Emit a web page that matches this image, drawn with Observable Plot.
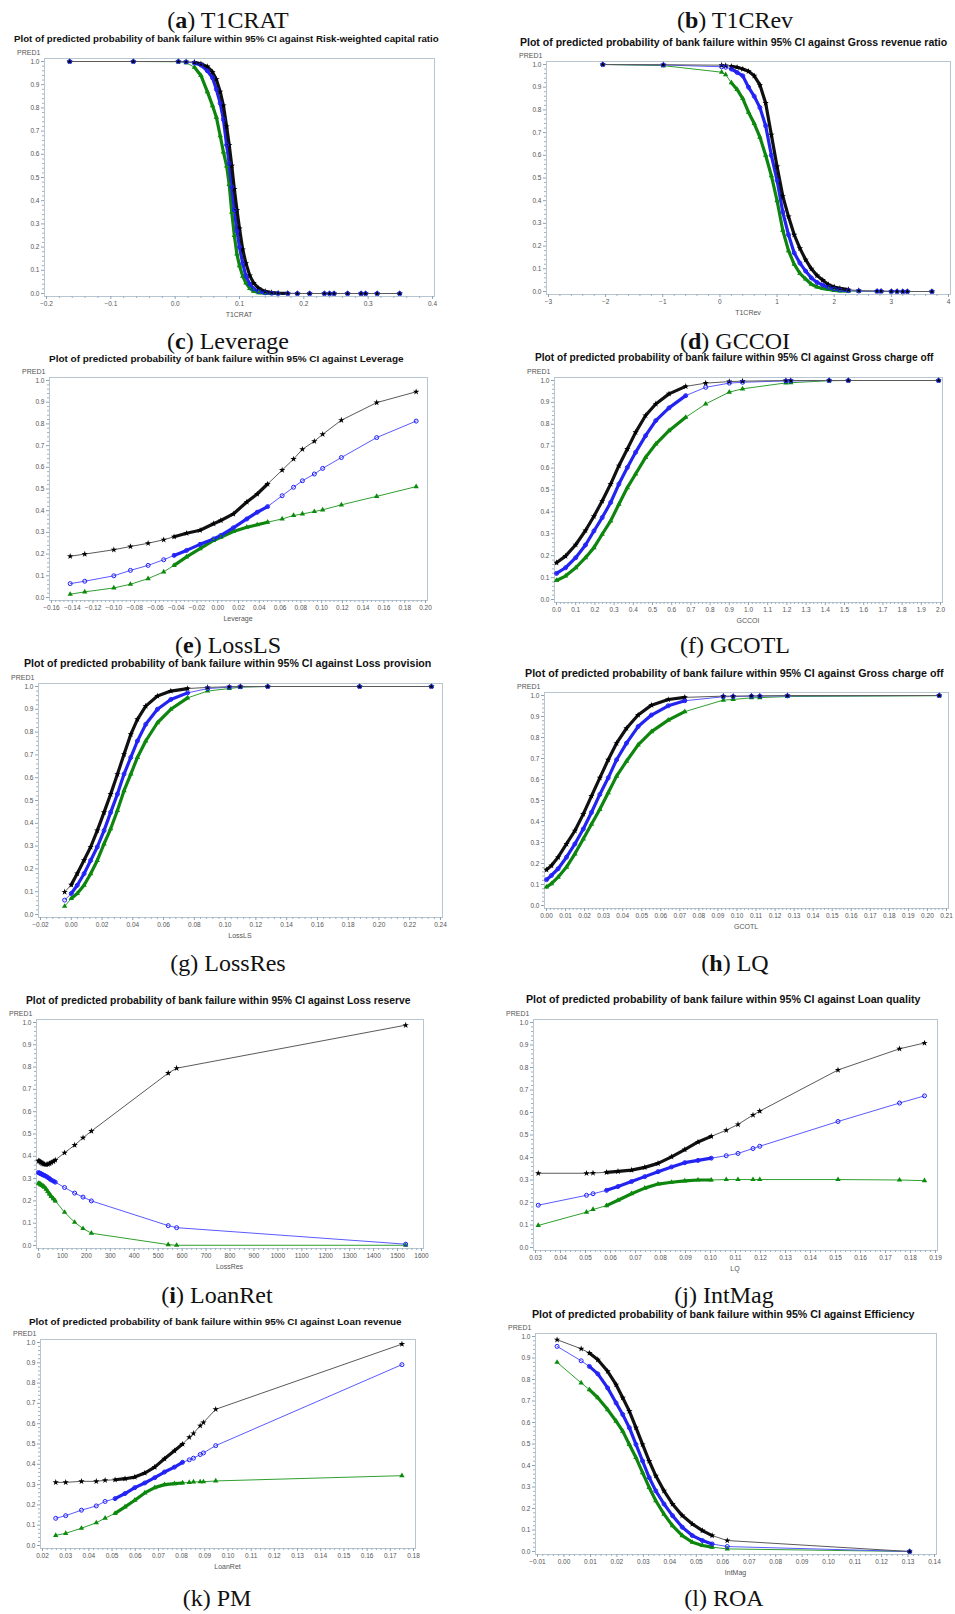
<!DOCTYPE html>
<html><head><meta charset="utf-8">
<script src="https://cdn.jsdelivr.net/npm/d3@7"></script>
<script src="https://cdn.jsdelivr.net/npm/@observablehq/plot@0.6"></script>
<style>
body{margin:0;background:#fff;}
#page{position:relative;width:955px;height:1614px;overflow:hidden;background:#fff;}
.cap{position:absolute;font-family:"Liberation Serif","Times New Roman",serif;font-size:24px;line-height:28px;white-space:nowrap;color:#111;transform:translate(-50%,-50%);}
.ttl{position:absolute;font-family:"Liberation Sans",Arial,sans-serif;font-weight:bold;white-space:nowrap;color:#111;line-height:1;}
.lab{position:absolute;font-family:"Liberation Sans",Arial,sans-serif;font-size:7px;line-height:8px;color:#555;white-space:nowrap;}
svg{position:absolute;}
</style></head><body><div id="page"></div>
<script>
// ---------- data ----------
const yTicks = [0,0.1,0.2,0.3,0.4,0.5,0.6,0.7,0.8,0.9,1.0];

// (a) T1CRAT
const aX = [-0.164,-0.065,0.005,0.017,0.03,0.04,0.05,0.058,0.064,0.07,0.075,0.08,0.084,0.088,0.092,0.096,0.1,0.105,0.11,0.116,0.122,0.13,0.14,0.15,0.16,0.175,0.19,0.209,0.232,0.24,0.247,0.268,0.289,0.296,0.314,0.349];
const aUpper = [1,1,1,0.999,0.997,0.99,0.978,0.955,0.923,0.87,0.81,0.72,0.64,0.55,0.45,0.36,0.28,0.19,0.13,0.077,0.045,0.022,0.009,0.004,0.002,0.001,0,0,0,0,0,0,0,0,0,0];
const aPred = [1,1,1,0.998,0.993,0.985,0.96,0.93,0.88,0.82,0.75,0.64,0.56,0.46,0.36,0.27,0.2,0.13,0.075,0.04,0.02,0.008,0.003,0.001,0,0,0,0,0,0,0,0,0,0,0,0];
const aLower = [1,1,0.999,0.995,0.975,0.94,0.87,0.81,0.76,0.68,0.61,0.55,0.47,0.35,0.25,0.17,0.12,0.075,0.045,0.022,0.01,0.004,0.001,0,0,0,0,0,0,0,0,0,0,0,0,0];
const aTicks = [-0.2,-0.1,0,0.1,0.2,0.3,0.4];

// (b) T1CRev
const bX = [-2.05,-0.99,0.03,0.1,0.2,0.3,0.4,0.5,0.6,0.7,0.8,0.9,1.0,1.1,1.2,1.3,1.4,1.5,1.6,1.7,1.8,1.9,2.0,2.1,2.25,2.43,2.75,2.82,3.0,3.1,3.2,3.28,3.71];
const bUpper = [1,0.999,0.997,0.995,0.992,0.988,0.98,0.97,0.95,0.91,0.83,0.69,0.55,0.42,0.33,0.25,0.19,0.14,0.1,0.07,0.05,0.03,0.02,0.014,0.008,0.004,0.002,0.002,0.001,0.001,0,0,0];
const bPred = [1,0.998,0.99,0.988,0.98,0.965,0.95,0.9,0.86,0.81,0.73,0.6,0.49,0.35,0.25,0.17,0.125,0.09,0.06,0.04,0.028,0.018,0.011,0.007,0.004,0.002,0.001,0.001,0,0,0,0,0];
const bLower = [1,0.995,0.966,0.955,0.92,0.89,0.85,0.79,0.74,0.68,0.6,0.51,0.4,0.27,0.18,0.12,0.08,0.055,0.032,0.02,0.013,0.009,0.005,0.003,0.002,0.001,0,0,0,0,0,0,0];
const bTicks = [-3,-2,-1,0,1,2,3,4];

// (c) Leverage
const cX = [-0.142,-0.128,-0.100,-0.084,-0.067,-0.052,-0.042,-0.030,-0.017,-0.004,0.003,0.015,0.028,0.038,0.048,0.062,0.073,0.0815,0.093,0.101,0.119,0.153,0.191];
const cUpper = [0.19,0.20,0.22,0.235,0.25,0.266,0.28,0.296,0.31,0.34,0.355,0.385,0.44,0.477,0.523,0.587,0.638,0.683,0.72,0.752,0.817,0.898,0.948];
const cPred = [0.064,0.075,0.10,0.125,0.148,0.174,0.194,0.217,0.245,0.27,0.286,0.321,0.362,0.393,0.419,0.469,0.508,0.538,0.569,0.595,0.645,0.737,0.813];
const cLower = [0.015,0.026,0.044,0.061,0.087,0.118,0.148,0.187,0.225,0.263,0.278,0.304,0.324,0.335,0.347,0.362,0.378,0.385,0.396,0.404,0.427,0.466,0.511];
const cTicks = [-0.16,-0.14,-0.12,-0.10,-0.08,-0.06,-0.04,-0.02,0,0.02,0.04,0.06,0.08,0.10,0.12,0.14,0.16,0.18,0.20];

// (d) GCCOI
const dX = [0,0.047,0.1,0.151,0.195,0.238,0.282,0.325,0.369,0.412,0.464,0.517,0.586,0.673,0.777,0.9,0.969,1.195,1.22,1.42,1.52,1.99];
const dUpper = [0.168,0.198,0.25,0.315,0.38,0.45,0.527,0.611,0.687,0.763,0.84,0.893,0.939,0.973,0.988,0.995,0.997,1,1,1,1,1];
const dPred = [0.119,0.145,0.191,0.249,0.313,0.374,0.443,0.527,0.603,0.672,0.748,0.817,0.875,0.931,0.969,0.988,0.992,0.998,0.998,1,1,1];
const dLower = [0.087,0.107,0.145,0.191,0.237,0.298,0.359,0.435,0.511,0.573,0.649,0.71,0.771,0.832,0.893,0.947,0.962,0.989,0.99,0.999,1,1];
const dTicks = [0,0.1,0.2,0.3,0.4,0.5,0.6,0.7,0.8,0.9,1.0,1.1,1.2,1.3,1.4,1.5,1.6,1.7,1.8,1.9,2.0];

// (e) LossLS
const eX = [-0.0043,0,0.0039,0.0083,0.0126,0.0169,0.0213,0.0256,0.030,0.0343,0.0387,0.043,0.0484,0.056,0.0647,0.0756,0.0886,0.1027,0.1099,0.1277,0.1874,0.2341];
const eUpper = [0.099,0.13,0.18,0.238,0.296,0.368,0.448,0.528,0.615,0.703,0.79,0.856,0.914,0.958,0.98,0.991,0.996,0.999,1,1,1,1];
const ePred = [0.063,0.092,0.128,0.179,0.237,0.296,0.368,0.448,0.528,0.616,0.689,0.761,0.834,0.9,0.943,0.972,0.991,0.997,0.999,1,1,1];
const eLower = [0.036,0.07,0.092,0.128,0.179,0.237,0.31,0.376,0.456,0.543,0.616,0.689,0.761,0.841,0.9,0.95,0.98,0.991,0.997,1,1,1];
const eTicks = [-0.02,0,0.02,0.04,0.06,0.08,0.10,0.12,0.14,0.16,0.18,0.20,0.22,0.24];

// (f) GCOTL
const fX = [0,0.0026,0.0061,0.0105,0.0149,0.0193,0.0236,0.028,0.0324,0.0368,0.042,0.0481,0.0551,0.0639,0.0726,0.0928,0.098,0.1076,0.112,0.1265,0.2062];
const fUpper = [0.17,0.19,0.23,0.293,0.356,0.435,0.521,0.608,0.694,0.773,0.844,0.907,0.954,0.981,0.991,0.997,0.997,0.998,0.998,1,1];
const fPred = [0.123,0.143,0.175,0.23,0.293,0.364,0.443,0.529,0.608,0.694,0.773,0.852,0.907,0.951,0.975,0.994,0.995,0.997,0.997,0.998,1];
const fLower = [0.088,0.104,0.135,0.183,0.246,0.317,0.387,0.458,0.537,0.616,0.687,0.765,0.828,0.883,0.923,0.978,0.981,0.989,0.99,0.995,0.999];
const fTicks = [0,0.01,0.02,0.03,0.04,0.05,0.06,0.07,0.08,0.09,0.10,0.11,0.12,0.13,0.14,0.15,0.16,0.17,0.18,0.19,0.20,0.21];

// (g) LossRes
const gX = [0,4,8,11,15,20,25,32,39,46,53,62,70,109,151,186,221,542,577,1534];
const gUpper = [0.38,0.378,0.375,0.372,0.369,0.366,0.364,0.363,0.364,0.367,0.372,0.377,0.383,0.416,0.45,0.483,0.513,0.773,0.795,0.988];
const gPred = [0.327,0.325,0.323,0.321,0.319,0.316,0.314,0.31,0.305,0.3,0.294,0.289,0.284,0.26,0.235,0.217,0.2,0.089,0.08,0.006];
const gLower = [0.279,0.277,0.275,0.272,0.269,0.266,0.262,0.253,0.242,0.231,0.22,0.21,0.2,0.149,0.104,0.076,0.055,0.004,0.001,0.001];
const gTicks = [0,100,200,300,400,500,600,700,800,900,1000,1100,1200,1300,1400,1500,1600];

// (h) LQ
const hX = [0.0311,0.0504,0.0530,0.0584,0.0630,0.0684,0.0737,0.0790,0.0844,0.0897,0.0950,0.1003,0.1063,0.1110,0.1170,0.1197,0.1510,0.1756,0.1856];
const hUpper = [0.33,0.33,0.331,0.334,0.338,0.344,0.356,0.374,0.403,0.435,0.469,0.494,0.521,0.547,0.589,0.606,0.789,0.883,0.909];
const hPred = [0.188,0.232,0.239,0.254,0.271,0.293,0.315,0.337,0.358,0.377,0.387,0.397,0.408,0.418,0.44,0.45,0.56,0.642,0.674];
const hLower = [0.098,0.157,0.169,0.186,0.21,0.239,0.264,0.282,0.29,0.296,0.3,0.3,0.302,0.302,0.302,0.302,0.302,0.3,0.297];
const hTicks = [0.03,0.04,0.05,0.06,0.07,0.08,0.09,0.10,0.11,0.12,0.13,0.14,0.15,0.16,0.17,0.18,0.19];

// (i) LoanRet
const iX = [0.0257,0.030,0.0368,0.0432,0.0470,0.0513,0.0556,0.0598,0.0641,0.0684,0.0726,0.0769,0.0804,0.0833,0.0851,0.0880,0.0894,0.0947,0.175];
const iUpper = [0.311,0.311,0.316,0.316,0.321,0.324,0.329,0.337,0.357,0.386,0.427,0.467,0.5,0.533,0.552,0.59,0.606,0.671,0.992];
const iPred = [0.134,0.147,0.174,0.195,0.217,0.231,0.256,0.285,0.308,0.334,0.362,0.386,0.41,0.422,0.43,0.448,0.456,0.492,0.891];
const iLower = [0.05,0.06,0.085,0.112,0.135,0.158,0.19,0.223,0.259,0.285,0.3,0.305,0.308,0.311,0.313,0.314,0.314,0.318,0.344];
const iTicks = [0.02,0.03,0.04,0.05,0.06,0.07,0.08,0.09,0.10,0.11,0.12,0.13,0.14,0.15,0.16,0.17,0.18];

// (j) IntMag
const jX = [-0.0026,0.0065,0.0096,0.0128,0.0165,0.0197,0.0222,0.0247,0.0272,0.0297,0.0322,0.0347,0.0378,0.041,0.0447,0.0485,0.0523,0.056,0.0617,0.1306];
const jUpper = [0.985,0.943,0.923,0.892,0.838,0.776,0.715,0.653,0.576,0.498,0.421,0.352,0.282,0.221,0.167,0.128,0.097,0.074,0.051,0];
const jPred = [0.954,0.887,0.861,0.826,0.761,0.691,0.637,0.576,0.498,0.421,0.344,0.282,0.221,0.167,0.113,0.074,0.051,0.035,0.023,0];
const jLower = [0.88,0.784,0.753,0.715,0.66,0.606,0.56,0.498,0.437,0.367,0.298,0.236,0.174,0.12,0.074,0.043,0.028,0.02,0.012,0];
const jTicks = [-0.01,0,0.01,0.02,0.03,0.04,0.05,0.06,0.07,0.08,0.09,0.10,0.11,0.12,0.13,0.14];

const titleStem = "Plot of predicted probability of bank failure within 95% CI against ";

// ---------- layout (positions / styles) ----------
const panels = [
 {L:"a",cap:"T1CRAT",bold:true,cx:228,cy:20,title:"Risk-weighted capital ratio",tx0:14,tx1:439,ty:39,xl:"T1CRAT",fr:[44,434,58,296],x:aX,up:aUpper,pr:aPred,lo:aLower,ticks:aTicks,fmt:".1f",dense:[0.02,0.18]},
 {L:"b",cap:"T1CRev",bold:true,cx:735,cy:20,title:"Gross revenue ratio",tx0:520,tx1:948,ty:43,xl:"T1CRev",fr:[546,950,61,294],x:bX,up:bUpper,pr:bPred,lo:bLower,ticks:bTicks,fmt:"d",dense:[0.2,2.3]},
 {L:"c",cap:"Leverage",bold:true,cx:228,cy:341,title:"Leverage",tx0:49,tx1:404,ty:359,xl:"Leverage",fr:[49,427,377,600],x:cX,up:cUpper,pr:cPred,lo:cLower,ticks:cTicks,fmt:".2f",dense:[-0.045,0.05]},
 {L:"d",cap:"GCCOI",bold:true,cx:735,cy:341,title:"Gross charge off",tx0:535,tx1:934,ty:359,xl:"GCCOI",fr:[554,942,377,602],x:dX,up:dUpper,pr:dPred,lo:dLower,ticks:dTicks,fmt:".1f",dense:[0,0.7]},
 {L:"e",cap:"LossLS",bold:true,cx:228,cy:645,title:"Loss provision",tx0:24,tx1:432,ty:664,xl:"LossLS",fr:[38,442,683,917],x:eX,up:eUpper,pr:ePred,lo:eLower,ticks:eTicks,fmt:".2f",dense:[-0.001,0.08]},
 {L:"f",cap:"GCOTL",bold:false,cx:735,cy:645,title:"Gross charge off",tx0:525,tx1:944,ty:674,xl:"GCOTL",fr:[544,948,692,908],x:fX,up:fUpper,pr:fPred,lo:fLower,ticks:fTicks,fmt:".2f",dense:[0,0.075]},
 {L:"g",cap:"LossRes",bold:false,cx:228,cy:963,title:"Loss reserve",tx0:26,tx1:411,ty:1002,xl:"LossRes",fr:[36,423,1019,1248],x:gX,up:gUpper,pr:gPred,lo:gLower,ticks:gTicks,fmt:"d",dense:[0,72]},
 {L:"h",cap:"LQ",bold:true,cx:735,cy:963,title:"Loan quality",tx0:526,tx1:921,ty:1000,xl:"LQ",fr:[533,937,1019,1250],x:hX,up:hUpper,pr:hPred,lo:hLower,ticks:hTicks,fmt:".2f",dense:[0.058,0.101]},
 {L:"i",cap:"LoanRet",bold:true,cx:217,cy:1295,title:"Loan revenue",tx0:29,tx1:402,ty:1322,xl:"LoanRet",fr:[40,415,1339,1548],x:iX,up:iUpper,pr:iPred,lo:iLower,ticks:iTicks,fmt:".2f",dense:[0.051,0.081]},
 {L:"j",cap:"IntMag",bold:false,cx:724,cy:1295,title:"Efficiency",tx0:532,tx1:915,ty:1315,xl:"IntMag",fr:[535,936,1333,1554],x:jX,up:jUpper,pr:jPred,lo:jLower,ticks:jTicks,fmt:".2f",dense:[0.009,0.06]}
];
const extraCaps = [
 {L:"k",cap:"PM",bold:false,cx:217,cy:1598},
 {L:"l",cap:"ROA",bold:false,cx:724,cy:1598}
];

const COL = {up:"#000000", upLine:"#5a5a5a", upDense:"#111111", pr:"#1f1fff", prLine:"#5a5aff", prDense:"#2424f0", lo:"#0b8a0b", loLine:"#2f9f2f", loDense:"#0e850e"};

const page = document.getElementById("page");

function addDiv(cls, html, style) {
  const d = document.createElement("div");
  d.className = cls; d.innerHTML = html;
  Object.assign(d.style, style);
  page.appendChild(d);
  return d;
}

function minorOf(t) {
  const out = [];
  for (let i = 0; i < t.length - 1; i++) {
    for (let k = 1; k < 5; k++) out.push(t[i] + (t[i+1] - t[i]) * k / 5);
  }
  return out;
}

function caption(c) {
  addDiv("cap", "(" + (c.bold ? "<b>" + c.L + "</b>" : c.L) + ") " + c.cap, {left: c.cx + "px", top: c.cy + "px"});
}

panels.forEach(p => {
  caption(p);
  const t = addDiv("ttl", titleStem + p.title, {left: p.tx0 + "px", fontSize: "10px"});
  const w = t.getBoundingClientRect().width;
  const fs = 10 * (p.tx1 - p.tx0) / w;
  t.style.fontSize = fs + "px";
  t.style.top = (p.ty - fs * 0.55) + "px";

  const [L, R, T, B] = p.fr;
  const ml = 30, mr = 5, mt = 6, mb = 16;
  const data = p.x.map((x, i) => ({x, up: p.up[i], pr: p.pr[i], lo: p.lo[i]}));
  const dense = data.filter(d => d.x >= p.dense[0] && d.x <= p.dense[1]);
  const xd = [p.ticks[0], p.ticks[p.ticks.length - 1]];
  const svg = Plot.plot({
    width: R - L + ml + mr,
    height: B - T + mt + mb,
    marginLeft: ml, marginRight: mr, marginTop: mt, marginBottom: mb,
    style: {fontFamily: "'Liberation Sans', Arial, sans-serif", fontSize: "6.5px", color: "#555", background: "transparent", overflow: "visible"},
    x: {domain: xd, inset: 2, label: null},
    y: {domain: [0, 1], inset: 3, label: null},
    marks: [
      Plot.frame({stroke: "#b8c6d2"}),
      Plot.axisY(minorOf(yTicks), {tickSize: 2, tickFormat: () => "", stroke: "#9fb0bf"}),
      Plot.axisY(yTicks, {tickSize: 3, tickPadding: 2, tickFormat: d3.format(".1f"), stroke: "#8fa2b3"}),
      Plot.axisX(minorOf(p.ticks), {tickSize: 2, tickFormat: () => "", stroke: "#9fb0bf"}),
      Plot.axisX(p.ticks, {tickSize: 3, tickPadding: 2, tickFormat: d3.format(p.fmt), stroke: "#8fa2b3"}),
      Plot.line(data, {x: "x", y: "lo", stroke: COL.loLine, strokeWidth: 1}),
      Plot.line(data, {x: "x", y: "pr", stroke: COL.prLine, strokeWidth: 1}),
      Plot.line(data, {x: "x", y: "up", stroke: COL.upLine, strokeWidth: 1}),
      Plot.line(dense, {x: "x", y: "lo", stroke: COL.loDense, strokeWidth: 3.2, strokeLinecap: "round"}),
      Plot.line(dense, {x: "x", y: "pr", stroke: COL.prDense, strokeWidth: 3.2, strokeLinecap: "round"}),
      Plot.line(dense, {x: "x", y: "up", stroke: COL.upDense, strokeWidth: 3.2, strokeLinecap: "round"}),
      Plot.dot(data, {x: "x", y: "lo", symbol: "triangle", fill: COL.lo, r: 2}),
      Plot.dot(data, {x: "x", y: "up", symbol: "star", fill: COL.up, r: 2}),
      Plot.dot(data, {x: "x", y: "pr", symbol: "circle", stroke: COL.pr, strokeWidth: 1, r: 2})
    ]
  });
  svg.style.left = (L - ml) + "px";
  svg.style.top = (T - mt) + "px";
  page.appendChild(svg);

  addDiv("lab", "PRED1", {left: (L - 27) + "px", top: (T - 9) + "px"});
  addDiv("lab", p.xl, {left: ((L + R) / 2) + "px", top: (B + 15) + "px", transform: "translateX(-50%)"});
});
extraCaps.forEach(caption);
</script>
</body></html>
